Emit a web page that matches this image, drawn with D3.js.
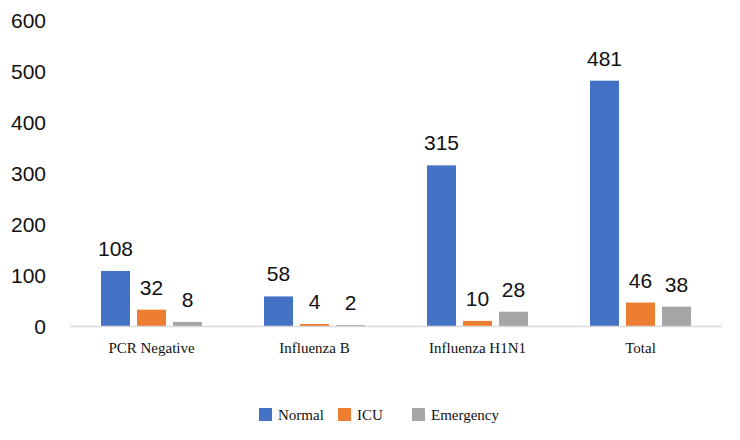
<!DOCTYPE html>
<html>
<head>
<meta charset="utf-8">
<script src="https://cdn.jsdelivr.net/npm/d3@7"></script>
<style>
  body { margin: 0; background: #fff; }
  .val, .ytick { font-family: "Liberation Sans", Arial, sans-serif; font-size: 21px; fill: #111; }
  .cat, .leg { font-family: "Liberation Serif", "Times New Roman", serif; font-size: 15px; fill: #111; }
</style>
</head>
<body>
<div class="chart"></div>
<script>
var categories = ['PCR Negative', 'Influenza B', 'Influenza H1N1', 'Total'];
var seriesNames = ['Normal', 'ICU', 'Emergency'];
var normal = [108, 58, 315, 481];
var icu = [32, 4, 10, 46];
var emergency = [8, 2, 28, 38];
var yTicks = [0, 100, 200, 300, 400, 500, 600];

var colors = ['#4472C4', '#ED7D31', '#A5A5A5'];
var series = [normal, icu, emergency];

var width = 740, height = 440;
var svg = d3.select('.chart').append('svg')
    .attr('width', width)
    .attr('height', height);

var x0 = d3.scaleBand().domain(categories).range([70, 722]);
var x1 = d3.scaleBand().domain(seriesNames).range([0, 101]).paddingInner(7 / 36);
var y = d3.scaleLinear().domain([0, 600]).range([326, 20]);

// y tick labels, no axis line
svg.append('g').selectAll('text')
    .data(yTicks)
    .enter().append('text')
    .attr('class', 'ytick')
    .attr('x', 46)
    .attr('y', function(d) { return y(d); })
    .attr('dy', '0.36em')
    .attr('text-anchor', 'end')
    .text(function(d) { return d; });

var groups = svg.append('g').selectAll('g')
    .data(categories)
    .enter().append('g')
    .attr('transform', function(d) {
      return 'translate(' + (x0(d) + x0.bandwidth() / 2 - 50.5) + ',0)';
    });

groups.selectAll('rect')
    .data(function(d, i) {
      return seriesNames.map(function(s, j) { return { s: s, v: series[j][i], c: colors[j] }; });
    })
    .enter().append('rect')
    .attr('x', function(d) { return x1(d.s); })
    .attr('width', x1.bandwidth())
    .attr('y', function(d) { return y(d.v); })
    .attr('height', function(d) { return y(0) - y(d.v); })
    .attr('fill', function(d) { return d.c; });

groups.selectAll('text.val')
    .data(function(d, i) {
      return seriesNames.map(function(s, j) { return { s: s, v: series[j][i] }; });
    })
    .enter().append('text')
    .attr('class', 'val')
    .attr('x', function(d) { return x1(d.s) + x1.bandwidth() / 2; })
    .attr('y', function(d) { return y(d.v) - 15; })
    .attr('text-anchor', 'middle')
    .text(function(d) { return d.v; });

// baseline
svg.append('line')
    .attr('x1', 70).attr('x2', 722)
    .attr('y1', y(0) + 0.5).attr('y2', y(0) + 0.5)
    .attr('stroke', '#D9D9D9')
    .attr('stroke-width', 1.5);

// category labels
svg.append('g').selectAll('text')
    .data(categories)
    .enter().append('text')
    .attr('class', 'cat')
    .attr('x', function(d) { return x0(d) + x0.bandwidth() / 2; })
    .attr('y', 353)
    .attr('text-anchor', 'middle')
    .text(function(d) { return d; });

// legend
var legendX = [259, 338, 412];
var legend = svg.append('g').selectAll('g')
    .data(seriesNames)
    .enter().append('g')
    .attr('transform', function(d, i) { return 'translate(' + legendX[i] + ',408)'; });

legend.append('rect')
    .attr('width', 13).attr('height', 13)
    .attr('fill', function(d, i) { return colors[i]; });

legend.append('text')
    .attr('class', 'leg')
    .attr('x', 19)
    .attr('y', 11.5)
    .text(function(d) { return d; });
</script>
</body>
</html>
